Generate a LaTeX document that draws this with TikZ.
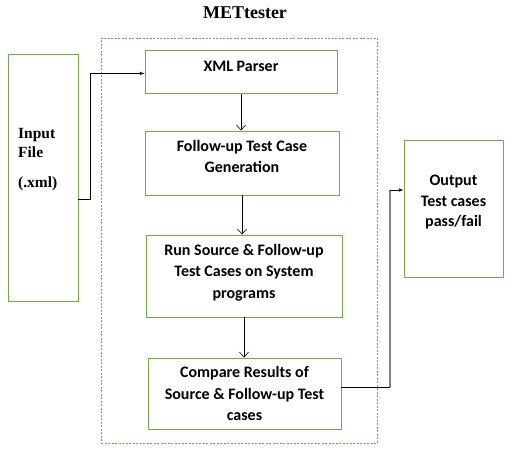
\documentclass[tikz,border=0pt]{standalone}
\usepackage{fontspec}
\setmainfont{Liberation Serif}
\newfontfamily\boxfont{Carlito}
\usetikzlibrary{arrows,arrows.meta,positioning,calc}
\definecolor{boxgreen}{HTML}{70AD47}
\tikzstyle{stage}=[rectangle, draw=boxgreen, line width=0.9pt, align=center, font=\boxfont\bfseries\fontsize{16}{21.5}\selectfont, inner sep=2pt]
\tikzstyle{frame}=[rectangle, draw=boxgreen, dashed, line width=0.5pt, dash pattern=on 2pt off 1.5pt]
\tikzstyle{connect}=[-latex, line width=0.6pt]
\tikzstyle{flow}=[-{Straight Barb[length=5pt,width=9pt]}, line width=0.6pt]

\begin{document}
\begin{tikzpicture}[x=1pt,y=-1pt]
  \useasboundingbox (0,0) rectangle (512,453);
  \node[font=\bfseries\fontsize{18}{20}\selectfont] (title) at (245,13) {METtester};
  \node[frame, minimum width=276pt, minimum height=405pt] (tester) at (239,240.5) {};
  \node[stage, minimum width=70pt, minimum height=247pt] (input) at (43,177.5) {};
  \node[anchor=north west, align=left, inner sep=0pt, font=\bfseries\fontsize{15.5}{19}\selectfont] (inlabel) at (18,128) {Input\\File\\[11pt](.xml)};
  \node[stage, minimum width=192pt, minimum height=43pt, anchor=north, text depth=12pt] (xml) at (241,50) {XML Parser};
  \node[stage, minimum width=194pt, minimum height=64pt] (gen) at (242,163) {Follow-up Test Case\\Generation\\[-8pt]};
  \node[stage, minimum width=196pt, minimum height=82pt] (run) at (244,276) {Run Source \& Follow-up\\Test Cases on System\\programs\\[-12pt]};
  \node[stage, minimum width=193pt, minimum height=71pt] (cmp) at (244.5,393.5) {Compare Results of\\Source \& Follow-up Test\\cases};
  \node[stage, minimum width=99pt, minimum height=137pt, font=\boxfont\bfseries\fontsize{16}{20.5}\selectfont] (out) at (453.5,208.5) {Output\\Test cases\\pass/fail\\[-6pt]};

  % input to parser
  \draw[connect] ([yshift=-21.5pt]input.east) -- ++(12,0) |- ([yshift=-1.5pt]xml.west);
  % pipeline
  \draw[flow] (xml.south) -- (xml.south |- gen.north);
  \draw[flow] (gen.south) -- (gen.south |- run.north);
  \draw[flow] (run.south) -- (run.south |- cmp.north);
  % results to output
  \coordinate (bendlow) at (390,387);
  \coordinate (bendhigh) at (390,190);
  \draw[line width=0.6pt] ([yshift=6.5pt]cmp.east) -- (bendlow);
  \draw[gray, line width=1.3pt] (bendlow) -- (bendhigh);
  \draw[connect] (bendhigh) -- (bendhigh -| out.west);
\end{tikzpicture}
\end{document}
